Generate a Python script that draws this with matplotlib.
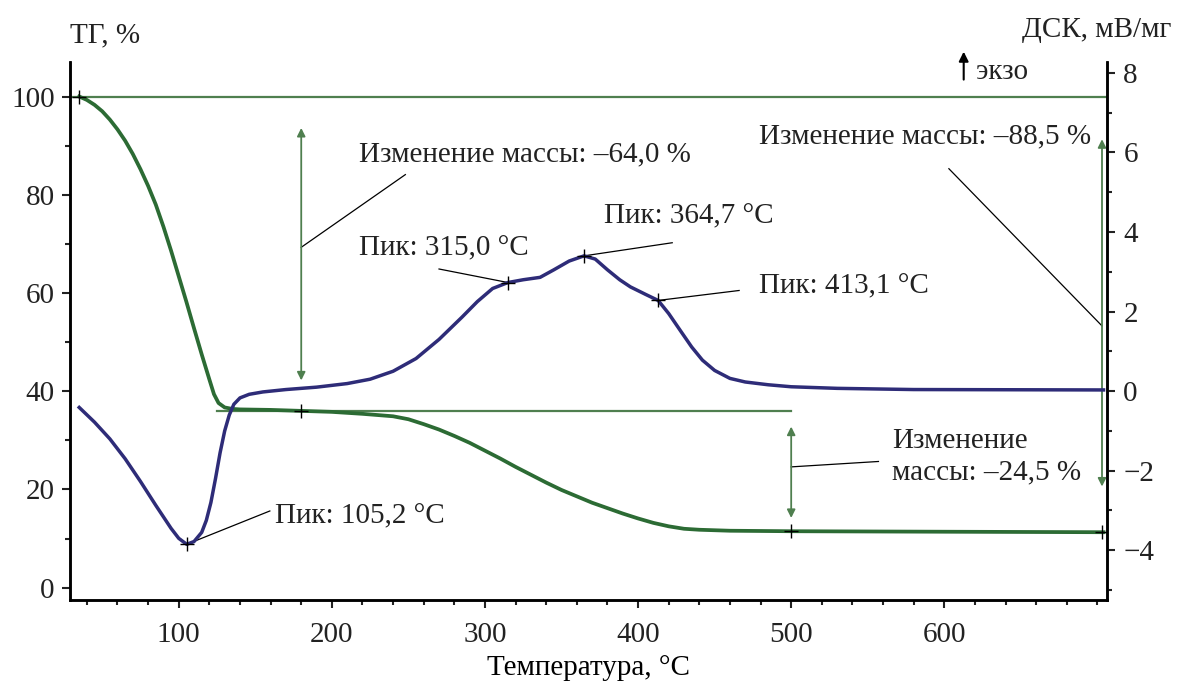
import numpy as np
import matplotlib
matplotlib.use('Agg')
import matplotlib.pyplot as plt
from matplotlib.ticker import MultipleLocator

plt.rcParams['font.family'] = ['Liberation Serif', 'DejaVu Serif']
plt.rcParams['font.size'] = 21
plt.rcParams['text.color'] = '#222222'
plt.rcParams['xtick.color'] = '#222222'
plt.rcParams['ytick.color'] = '#222222'

### data
tg_temp = [35, 40, 45, 50, 55, 60, 65, 70, 75, 80, 85, 90, 95, 100, 105, 110,
           115, 120, 123, 126, 130, 135, 140, 160, 180, 200, 220, 240, 250,
           260, 270, 280, 290, 300, 310, 320, 330, 340, 350, 360, 370, 380,
           390, 400, 410, 420, 430, 440, 460, 500, 600, 704]
tg_mass = [100, 99.3, 98.3, 97.0, 95.3, 93.3, 91.0, 88.3, 85.2, 81.8, 78.0,
           73.5, 68.6, 63.4, 58.2, 52.8, 47.5, 42.4, 39.4, 37.6, 36.7, 36.4,
           36.3, 36.2, 36.0, 35.8, 35.4, 34.9, 34.3, 33.3, 32.2, 30.9, 29.5,
           27.9, 26.3, 24.6, 23.0, 21.4, 19.9, 18.6, 17.3, 16.2, 15.1, 14.1,
           13.2, 12.5, 12.0, 11.8, 11.6, 11.5, 11.4, 11.3]

dsc_temp = [35, 45, 55, 65, 75, 85, 95, 100, 105.2, 110, 115, 118, 121, 124,
            127, 130, 133, 136, 140, 146, 155, 170, 190, 210, 225, 240, 255,
            270, 285, 295, 305, 315, 325, 336, 345, 355, 364.7, 372, 380, 388,
            395, 405, 413.1, 420, 428, 435, 442, 450, 460, 470, 485, 500, 530,
            580, 704]
dsc_val = [-0.41, -0.78, -1.20, -1.70, -2.27, -2.87, -3.45, -3.70, -3.85,
           -3.78, -3.55, -3.25, -2.80, -2.20, -1.55, -1.00, -0.60, -0.33,
           -0.17, -0.08, -0.02, 0.04, 0.10, 0.19, 0.30, 0.50, 0.82, 1.30, 1.86,
           2.25, 2.58, 2.73, 2.80, 2.86, 3.05, 3.27, 3.40, 3.32, 3.05, 2.80,
           2.62, 2.43, 2.28, 1.95, 1.50, 1.11, 0.78, 0.52, 0.32, 0.23, 0.16,
           0.11, 0.07, 0.04, 0.03]

peak_temp = [105.2, 315.0, 364.7, 413.1]
peak_dsc = [-3.85, 2.73, 3.40, 2.28]
peak_labels = ['Пик: 105,2 °C', 'Пик: 315,0 °C', 'Пик: 364,7 °C', 'Пик: 413,1 °C']

step_temp = [180, 500, 703]
mass_changes = ['Изменение массы: –64,0 %', 'Изменение\nмассы: –24,5 %',
                'Изменение массы: –88,5 %']

tg_color = '#2c6b34'
dsc_color = '#2e2c78'
ann_green = '#4f7f4f'

fig = plt.figure(figsize=(11.81, 6.98), dpi=100)
ax1 = fig.add_axes([0.0593, 0.1404, 0.8777, 0.7706])
ax2 = ax1.twinx()

ax1.set_xlim(29, 706)
ax1.set_ylim(-2.5, 107)
ax2.set_ylim(-5.25, 8.27)

### curves
ax1.plot(tg_temp, tg_mass, color=tg_color, lw=2.7, zorder=5)
ax2.plot(dsc_temp, dsc_val, color=dsc_color, lw=2.5, zorder=5)

### reference lines for mass change
ax1.plot([29, 706], [100, 100], color=ann_green, lw=1.6)
ax1.plot([125, 500], [36.0, 36.0], color=ann_green, lw=1.6)

# crosses on the TG curve
ax1.plot([35, 180, 500, 703], [100, 36.0, 11.5, 11.3], '+', color='black',
         ms=10, mew=1.0, zorder=6)
# crosses on the DSC peaks
ax2.plot(peak_temp, peak_dsc, '+', color='black', ms=10, mew=1.0, zorder=6)

### double arrows
arrow_kw = dict(arrowstyle='<|-|>', color=ann_green, lw=1.3,
                mutation_scale=12, shrinkA=0, shrinkB=0)
ax1.annotate('', xy=(step_temp[0], 93.6), xytext=(step_temp[0], 42.2), arrowprops=arrow_kw)
ax1.annotate('', xy=(step_temp[1], 32.8), xytext=(step_temp[1], 14.2), arrowprops=arrow_kw)
ax1.annotate('', xy=(step_temp[2], 91.3), xytext=(step_temp[2], 20.6), arrowprops=arrow_kw)

### mass change texts with leader lines
ax1.plot([180, 248], [69.3, 84.1], color='black', lw=0.9)
ax1.text(218, 88.3, mass_changes[0], ha='left', va='center')

ax1.plot([500, 557], [24.6, 25.7], color='black', lw=0.9)
ax1.text(566, 26.7, mass_changes[1], ha='left', va='center', linespacing=1.3)

ax1.plot([603, 703], [85.3, 53.3], color='black', lw=0.9)
ax1.text(479, 91.9, mass_changes[2], ha='left', va='center')

### peak labels with leader lines
leader_end = [(159.5, (15.6 - 40) / 8.1), (270, 3.07), (422.3, 3.73), (466, 2.53)]
label_pos = [(163, (14.5 - 40) / 8.1), (218, (69.1 - 40) / 8.1),
             (378, (75.6 - 40) / 8.1), (479, (61.4 - 40) / 8.1)]
for t, d, (lx, ly), (tx, ty), lab in zip(peak_temp, peak_dsc, leader_end, label_pos, peak_labels):
    ax2.plot([t, lx], [d, ly], color='black', lw=0.9)
    ax2.text(tx, ty, lab, ha='left', va='center')

### axes styling
for ax in (ax1, ax2):
    ax.spines['top'].set_visible(False)
    for s in ('left', 'right', 'bottom'):
        ax.spines[s].set_linewidth(1.8)

ax1.xaxis.set_major_locator(MultipleLocator(100))
ax1.xaxis.set_minor_locator(MultipleLocator(20))
ax1.yaxis.set_major_locator(MultipleLocator(20))
ax1.yaxis.set_minor_locator(MultipleLocator(10))
ax2.yaxis.set_major_locator(MultipleLocator(2))
ax2.yaxis.set_minor_locator(MultipleLocator(1))
ax1.set_xticks([100, 200, 300, 400, 500, 600])

ax1.tick_params(which='major', length=6, width=1.5, direction='out', pad=5)
ax1.tick_params(axis='x', which='major', pad=10)
ax1.tick_params(which='minor', length=3.5, width=1.5, direction='out')
ax2.tick_params(which='major', length=6, width=1.5, direction='out', pad=6)
ax2.tick_params(which='minor', length=3.5, width=1.5, direction='out')

ax1.set_xlabel('Температура, °C', labelpad=5)

fig.text(0.059, 0.95, 'ТГ, %', ha='left', va='center')
fig.text(0.992, 0.957, 'ДСК, мВ/мг', ha='right', va='center')
fig.text(0.826, 0.897, 'экзо', ha='left', va='center')
fig.add_artist(matplotlib.patches.FancyArrowPatch(
    (0.816, 0.882), (0.816, 0.93), transform=fig.transFigure,
    arrowstyle='-|>', mutation_scale=14, color='black', lw=1.5))

plt.savefig('out.png', dpi=100)
